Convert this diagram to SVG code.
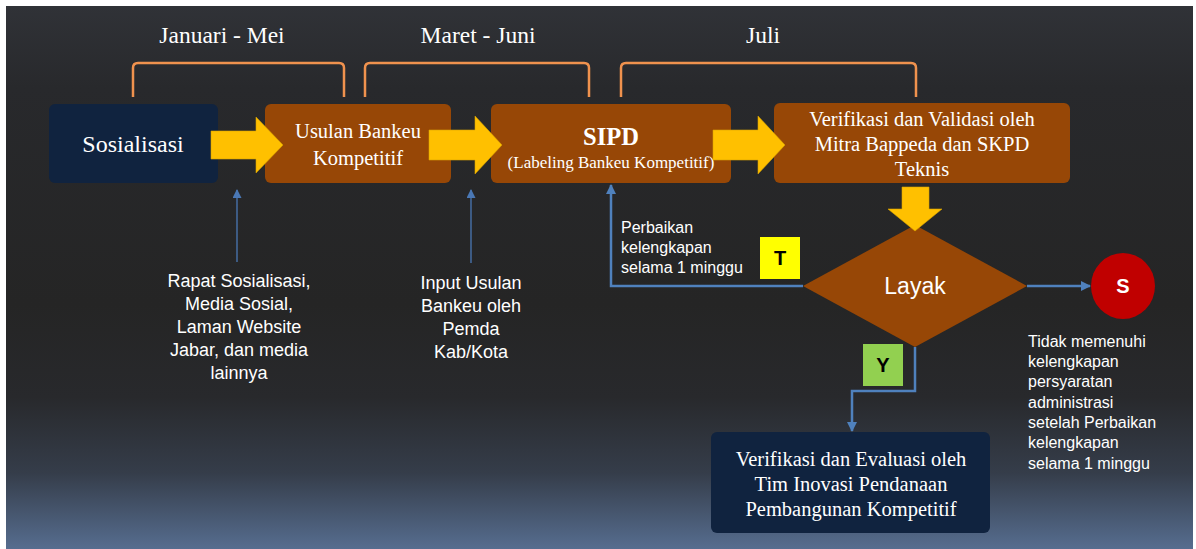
<svg xmlns="http://www.w3.org/2000/svg" width="1196" height="549" viewBox="0 0 1196 549">
<defs>
<linearGradient id="bg" x1="0" y1="0" x2="0" y2="1">
<stop offset="0" stop-color="#303237"/>
<stop offset="0.15" stop-color="#28292c"/>
<stop offset="0.55" stop-color="#252525"/>
<stop offset="0.72" stop-color="#28292c"/>
<stop offset="0.86" stop-color="#353d4a"/>
<stop offset="1" stop-color="#566d8f"/>
</linearGradient>
<marker id="bh" viewBox="0 0 10 10" refX="9" refY="5" markerWidth="10" markerHeight="10" markerUnits="userSpaceOnUse" orient="auto">
<path d="M0 0 L10 5 L0 10 Z" fill="#4f81bd"/>
</marker>
<marker id="sh" viewBox="0 0 10 10" refX="9" refY="5" markerWidth="11" markerHeight="9" markerUnits="userSpaceOnUse" orient="auto">
<path d="M0 0 L10 5 L0 10 Z" fill="#4a78b5"/>
</marker>
<style>
.serif{font-family:"Liberation Serif","DejaVu Serif",serif;fill:#fff;text-anchor:middle}
.sans{font-family:"Liberation Sans",Arial,sans-serif;fill:#fff;font-size:16px}
.note{font-size:18px}
.mid{text-anchor:middle}
.orange{fill:#974706}
.navy{fill:#10233f}
.brace{fill:none;stroke:#f0924e;stroke-width:2.5}
.yarrow{fill:#ffc000;stroke:#d8a200;stroke-width:0.6}
.blue{fill:none;stroke:#4f81bd;stroke-width:2.5}
.thin{fill:none;stroke:#4a78b5;stroke-width:1.3}
.tag{font-family:"Liberation Sans",Arial,sans-serif;font-weight:bold;font-size:20px;fill:#000;text-anchor:middle}
</style>
</defs>
<rect x="0" y="0" width="1196" height="549" fill="#fff"/>
<rect x="6" y="6" width="1187" height="543" fill="url(#bg)"/>

<g id="periods">
<g id="brace-jan">
<path class="brace" d="M133 97 V68 Q133 63 138 63 H339 Q344 63 344 68 V97"/>
<text class="serif" x="222" y="43" font-size="23.5">Januari - Mei</text>
</g>
<g id="brace-mar">
<path class="brace" d="M365 97 V68 Q365 63 370 63 H584 Q589 63 589 68 V97"/>
<text class="serif" x="478" y="43" font-size="23.5">Maret - Juni</text>
</g>
<g id="brace-jul">
<path class="brace" d="M621 97 V68 Q621 63 626 63 H911 Q916 63 916 68 V97"/>
<text class="serif" x="763" y="43" font-size="23.5">Juli</text>
</g>
</g>

<g id="sosialisasi">
<rect class="navy" x="49" y="104" width="169" height="79" rx="6"/>
<text class="serif" x="133" y="152" font-size="24">Sosialisasi</text>
</g>
<g id="usulan">
<rect class="orange" x="265" y="104" width="186" height="79" rx="6"/>
<text class="serif" x="358" y="138" font-size="20.5">Usulan Bankeu</text>
<text class="serif" x="358" y="165" font-size="20.5">Kompetitif</text>
</g>
<g id="sipd">
<rect class="orange" x="491" y="104" width="240" height="79" rx="6"/>
<text class="serif" x="611" y="145" font-size="24.5" font-weight="bold">SIPD</text>
<text class="serif" x="611" y="168" font-size="17">(Labeling Bankeu Kompetitif)</text>
</g>
<g id="verval">
<rect class="orange" x="774" y="103" width="296" height="80" rx="6"/>
<text class="serif" x="922" y="126" font-size="20.5">Verifikasi dan Validasi oleh</text>
<text class="serif" x="922" y="151" font-size="20.5">Mitra Bappeda dan SKPD</text>
<text class="serif" x="922" y="176" font-size="20.5">Teknis</text>
</g>
<g id="layak">
<polygon class="orange" points="915,225 1027,286 915,347 803,286"/>
<text class="sans mid" x="915" y="294" style="font-size:23px">Layak</text>
</g>
<g id="selesai">
<ellipse cx="1123" cy="286" rx="32" ry="33" fill="#c00000"/>
<text class="tag" x="1123" y="293" style="fill:#fff">S</text>
</g>
<g id="evaluasi">
<rect class="navy" x="711" y="432" width="279" height="101" rx="6"/>
<text class="serif" x="851" y="466" font-size="20.5">Verifikasi dan Evaluasi oleh</text>
<text class="serif" x="851" y="491" font-size="20.5">Tim Inovasi Pendanaan</text>
<text class="serif" x="851" y="516" font-size="20.5">Pembangunan Kompetitif</text>
</g>

<g id="note-sosialisasi">
<text class="sans note mid" x="239" y="287">Rapat Sosialisasi,</text>
<text class="sans note mid" x="239" y="310">Media Sosial,</text>
<text class="sans note mid" x="239" y="333">Laman Website</text>
<text class="sans note mid" x="239" y="356">Jabar, dan media</text>
<text class="sans note mid" x="239" y="379">lainnya</text>
</g>
<g id="note-input">
<text class="sans note mid" x="471" y="289">Input Usulan</text>
<text class="sans note mid" x="471" y="312">Bankeu oleh</text>
<text class="sans note mid" x="471" y="335">Pemda</text>
<text class="sans note mid" x="471" y="358">Kab/Kota</text>
</g>
<g id="note-perbaikan">
<text class="sans" x="621" y="233">Perbaikan</text>
<text class="sans" x="621" y="253">kelengkapan</text>
<text class="sans" x="621" y="273">selama 1 minggu</text>
</g>
<g id="note-tidak">
<text class="sans" x="1028" y="347">Tidak memenuhi</text>
<text class="sans" x="1028" y="367">kelengkapan</text>
<text class="sans" x="1028" y="387">persyaratan</text>
<text class="sans" x="1028" y="408">administrasi</text>
<text class="sans" x="1028" y="428">setelah Perbaikan</text>
<text class="sans" x="1028" y="448">kelengkapan</text>
<text class="sans" x="1028" y="469">selama 1 minggu</text>
</g>
<g id="tag-t">
<rect x="760" y="237" width="40" height="42" fill="#ffff00"/>
<text class="tag" x="780" y="265">T</text>
</g>
<g id="tag-y">
<rect x="863" y="344" width="40" height="42" fill="#92d050"/>
<text class="tag" x="883" y="372">Y</text>
</g>

<g id="connectors">
<polygon class="yarrow" points="211,131 256,131 256,117 283,145 256,173 256,159 211,159"/>
<polygon class="yarrow" points="429,130 475,130 475,116 502,145 475,174 475,160 429,160"/>
<polygon class="yarrow" points="713,130 758,130 758,116 785,145 758,174 758,160 713,160"/>
<polygon class="yarrow" points="902,187 929,187 929,209 942,209 915,231 888,209 902,209"/>
<path class="thin" d="M237 262 V190" marker-end="url(#sh)"/>
<path class="thin" d="M471 263 V190" marker-end="url(#sh)"/>
<path class="blue" d="M803 286 H611 V185" marker-end="url(#bh)"/>
<path class="blue" d="M1027 286 H1090" marker-end="url(#bh)"/>
<path class="blue" d="M915 347 V391 H852 V431" marker-end="url(#bh)"/>
</g>
</svg>
